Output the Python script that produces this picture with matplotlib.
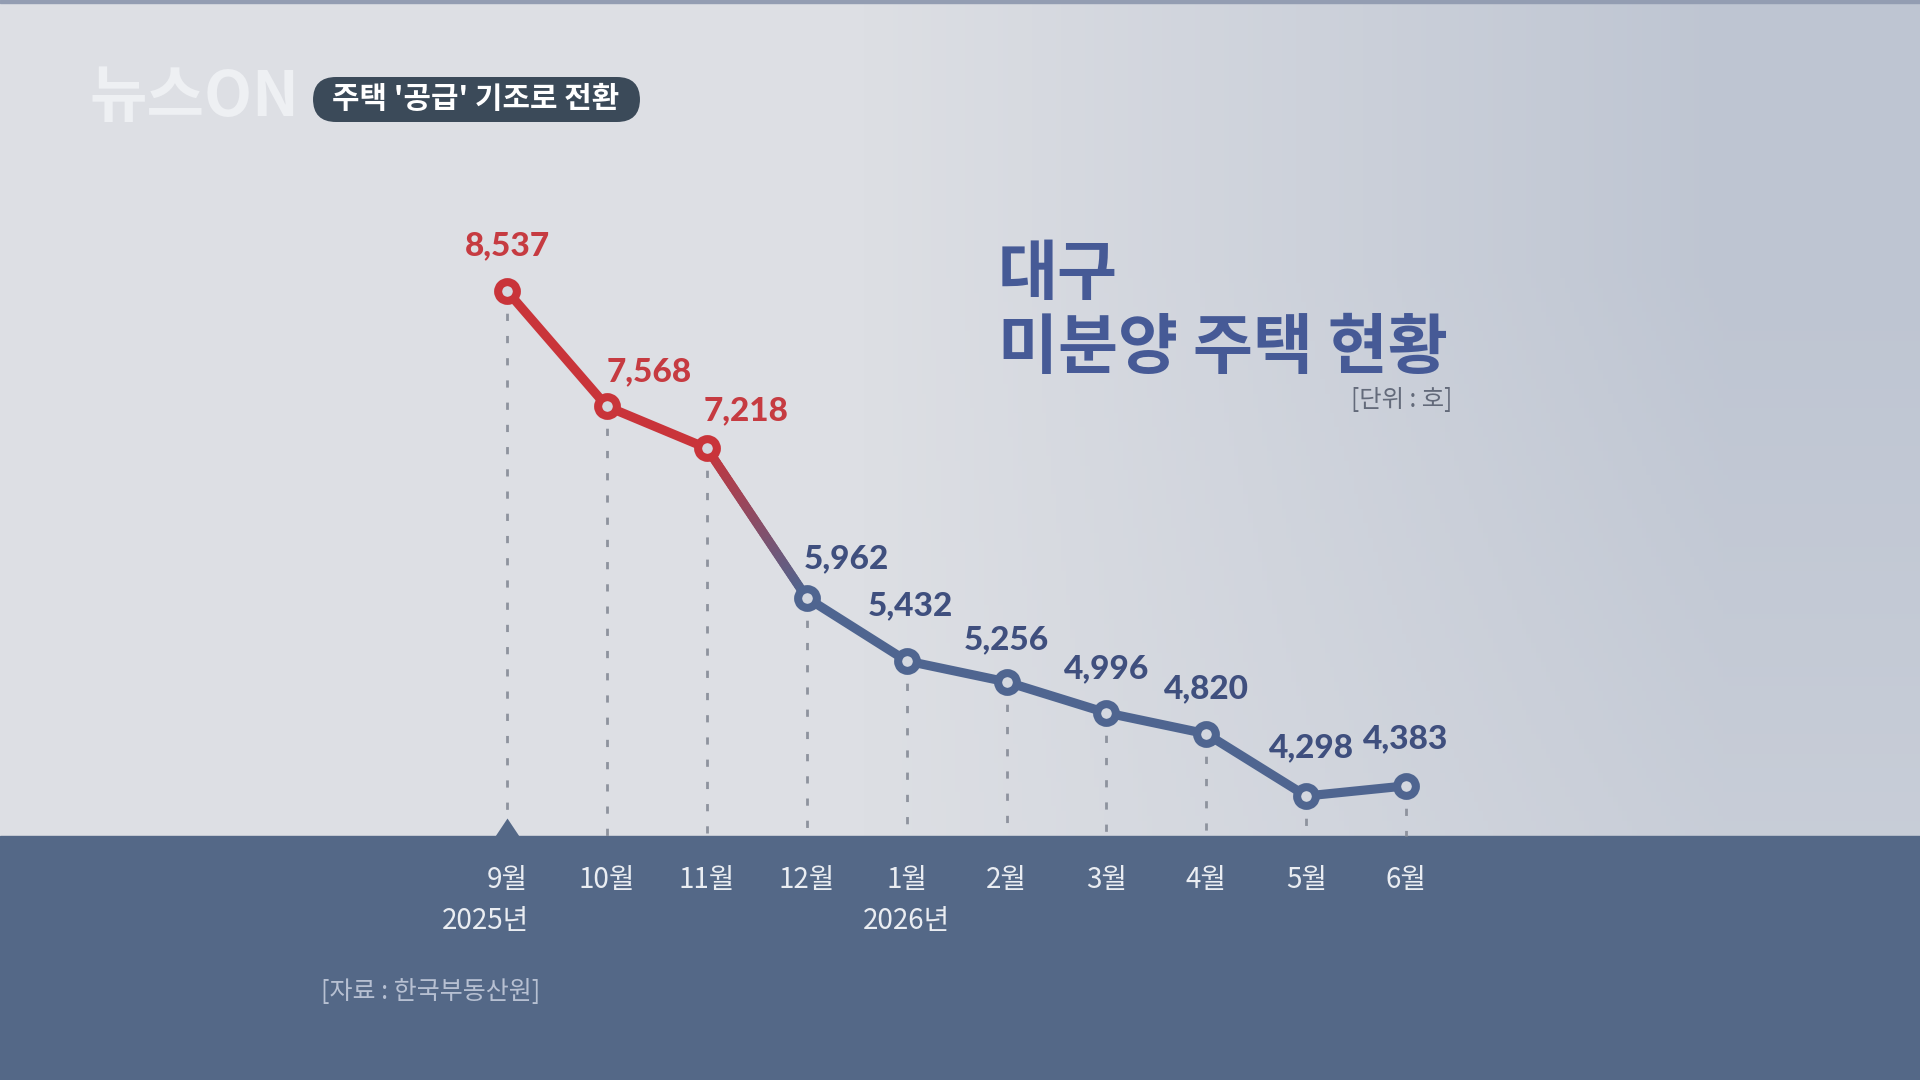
import numpy as np
import matplotlib
matplotlib.use("Agg")
import matplotlib.pyplot as plt
from matplotlib.collections import LineCollection
from matplotlib.patches import FancyBboxPatch, Rectangle
from matplotlib.path import Path
import matplotlib.transforms as mtransforms

plt.rcParams['font.family'] = ['Noto Sans CJK KR', 'DejaVu Sans']

# data
months = ['9월', '10월', '11월', '12월', '1월', '2월', '3월', '4월', '5월', '6월']
values = [8537, 7568, 7218, 5962, 5432, 5256, 4996, 4820, 4298, 4383]
years = [('2025년', 0), ('2026년', 4)]
n_red = 3  # first three points drawn in red

# label offsets in pixels (dx, dy up)
label_offsets = [(0, 45), (42, 35), (39, 37), (40, 39), (4, 55),
                 (0, 42), (0, 44), (0, 45), (5, 48), (0, 47)]

RED = '#c9343a'
RED_TXT = '#c63b41'
NAVY = '#4f6590'
NAVY_TXT = '#3f4f7e'
TITLE = '#465a96'
BAND = '#546887'
FACE = '#d4d8e0'

W, H = 1920, 1080
fig = plt.figure(figsize=(19.2, 10.8), dpi=100)

# background gradient
bg = fig.add_axes([0, 0, 1, 1], zorder=0)
gx = np.linspace(0, 1, 400)[None, :]
gy = np.linspace(0, 1, 225)[:, None]
left = np.array([221, 223, 228]) / 255
right = np.array([190, 197, 210]) / 255
t = np.clip((gx - 0.45) / 0.45, 0, 1) * np.clip(1.15 - gy * 0.6, 0, 1)
img = left[None, None, :] * (1 - t[..., None]) + right[None, None, :] * t[..., None]
bg.imshow(img, extent=[0, 1, 0, 1], aspect='auto', origin='upper')
bg.axis('off')

# main axes in data space
ax = fig.add_axes([0, 0, 1, 1], zorder=1)
ax.patch.set_alpha(0)
px_x0, px_step = 507, 99.9
ax.set_xlim(-px_x0 / px_step, -px_x0 / px_step + W / px_step)
scale = 0.11913  # pixels per unit
y_top = 8537 + 291 / scale
ax.set_ylim(y_top - H / scale, y_top)
ax.axis('off')

band_top_frac = (H - 836) / H
band_val = y_top - 836 / scale
ax.add_patch(Rectangle((0, 0), 1, band_top_frac, transform=ax.transAxes,
                       color=BAND, zorder=1))

x = np.arange(len(values))

# dashed guides
for xi, v in zip(x, values):
    ax.plot([xi, xi], [v, band_val], color='#8e939e', lw=2,
            dashes=(2.6, 5.4), zorder=2, solid_capstyle='butt')

LW = 6.6
# red part
ax.plot(x[:n_red], values[:n_red], color=RED, lw=LW, zorder=3,
        solid_capstyle='round', solid_joinstyle='round')
# gradient segment red -> navy
segn = 60
fx = np.linspace(x[n_red - 1], x[n_red], segn + 1)
fy = np.linspace(values[n_red - 1], values[n_red], segn + 1)
pts = np.column_stack([fx, fy]).reshape(-1, 1, 2)
segs = np.concatenate([pts[:-1], pts[1:]], axis=1)
c0 = np.array(matplotlib.colors.to_rgb(RED))
c1 = np.array(matplotlib.colors.to_rgb(NAVY))
fr = np.linspace(0, 1, segn)
cols = c0[None, :] * (1 - fr[:, None]) + c1[None, :] * fr[:, None]
ax.add_collection(LineCollection(segs, colors=cols, linewidths=LW,
                                 capstyle='round', zorder=3))
# navy part
ax.plot(x[n_red:], values[n_red:], color=NAVY, lw=LW, zorder=3,
        solid_capstyle='round', solid_joinstyle='round')

# markers
ax.plot(x[:n_red], values[:n_red], 'o', ms=13.5, mfc=FACE, mec=RED, mew=5.8,
        zorder=4, ls='none')
ax.plot(x[n_red:], values[n_red:], 'o', ms=13.5, mfc=FACE, mec=NAVY, mew=5.8,
        zorder=4, ls='none')

# value labels
for i, (xi, v) in enumerate(zip(x, values)):
    dx, dy = label_offsets[i]
    ax.annotate(f'{v:,}', (xi, v), xytext=(dx * 0.72, dy * 0.72),
                textcoords='offset points', ha='center', va='center',
                fontsize=24, fontweight='black', family=['Lato', 'DejaVu Sans'],
                color=RED_TXT if i < n_red else NAVY_TXT, zorder=5)

# triangle pointer on first month
tri = Path([(-1, 0), (1, 0), (0, 1.5), (-1, 0)],
           [Path.MOVETO, Path.LINETO, Path.LINETO, Path.CLOSEPOLY])
ax.plot([x[0]], [band_val], marker=tri, ms=25.9, color=BAND, mew=0, zorder=2)

# month labels
tr = mtransforms.blended_transform_factory(ax.transData, ax.transAxes)
for xi, m in zip(x, months):
    ax.text(xi, 1 - 880 / H, m, transform=tr, ha='center', va='center',
            fontsize=20, color='#eaedf2', fontweight='medium', zorder=5)
for label, xi in years:
    if xi == 0:
        ax.annotate(label, (xi, 1 - 921 / H), xycoords=tr, xytext=(22, 0),
                    textcoords='offset pixels', ha='right', va='center',
                    fontsize=20, color='#eaedf2', fontweight='medium')
    else:
        ax.text(xi, 1 - 921 / H, label, transform=tr, ha='center', va='center',
                fontsize=20, color='#eaedf2', fontweight='medium')

# title block
fig.text(998 / W, 1 - 275 / H, '대구', fontsize=47, fontweight='black',
         color=TITLE, va='center', ha='left', zorder=6)
fig.text(998 / W, 1 - 348 / H, '미분양 주택 현황', fontsize=47, fontweight='black',
         color=TITLE, va='center', ha='left', zorder=6)
fig.text(1452 / W, 1 - 400 / H, '[단위 : 호]', fontsize=17.5, color='#636a7a',
         va='center', ha='right', zorder=6)

# source
fig.text(321 / W, 1 - 992 / H, '[자료 : 한국부동산원]', fontsize=18,
         color='#b7c0d2', va='center', ha='left', zorder=6)

# top strip
fig.add_artist(Rectangle((0, 1 - 3 / H), 1, 3 / H, transform=fig.transFigure,
                         color='#939db2', zorder=6))

# logo
fig.text(90 / W, 1 - 98 / H, '뉴스ON', fontsize=45, fontweight='black',
         color='#eef0f3', va='center', ha='left', zorder=6)

# header tag
box = FancyBboxPatch((313 / W, 1 - 122 / H), 327 / W, 45 / H,
                     boxstyle='round,pad=0,rounding_size=0.012',
                     transform=fig.transFigure, facecolor='#3b4a59',
                     edgecolor='none', zorder=6, mutation_aspect=W / H)
fig.add_artist(box)
fig.text(476 / W, 1 - 99 / H, "주택 '공급' 기조로 전환", fontsize=21.5,
         fontweight='bold', color='white', va='center', ha='center', zorder=7)

fig.savefig('out.png', dpi=100)
